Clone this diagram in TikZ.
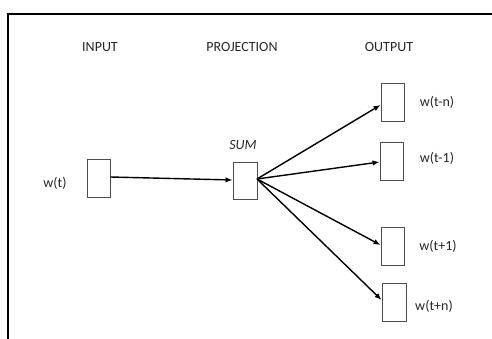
\documentclass[tikz,border=0pt]{standalone}
\usepackage{fontspec}
\setmainfont{Carlito}
\usetikzlibrary{arrows.meta}
\begin{document}
\begin{tikzpicture}[x=1pt,y=-1pt,
  wbox/.style={draw=black!70,line width=0.9pt,minimum width=23pt,minimum height=38pt,inner sep=0pt},
  lbl/.style={font=\fontsize{14}{16}\selectfont,inner sep=0pt,text=black!85},
  arr/.style={line width=1.4pt,-{Latex[length=7pt,width=5.5pt]}}]
\useasboundingbox (0,0) rectangle (492,339);
\draw[line width=1.8pt] (8,339) -- (8,14) -- (492,14);
\node[lbl] (tin) at (100,47) {INPUT};
\node[lbl] (tproj) at (242,47) {PROJECTION};
\node[lbl] (tout) at (389,47) {OUTPUT};
\node[wbox] (in) at (98.5,178.5) {};
\node[lbl,anchor=center] (lin) at (55,183) {w(t)};
\node[wbox,minimum width=24pt,minimum height=37pt] (sum) at (245,180.5) {};
\node[lbl,font=\fontsize{14}{16}\selectfont\itshape] (lsum) at (243,145) {SUM};
\node[wbox] (o1) at (392.5,102) {};
\node[wbox] (o2) at (391.5,161) {};
\node[wbox] (o3) at (392.5,246.5) {};
\node[wbox,minimum width=24pt] (o4) at (394,302) {};
\node[lbl] (l1) at (437,102) {w(t-n)};
\node[lbl] (l2) at (437,158) {w(t-1)};
\node[lbl] (l3) at (438,246) {w(t+1)};
\node[lbl] (l4) at (434,306) {w(t+n)};
\coordinate (s) at (257,179);
\draw[arr] (in.east |- 0,177) -- (sum.west |- 0,180);
\draw[arr] (s) -- (o1.west |- 0,105);
\draw[arr] (s) -- (o2.west |- 0,162);
\draw[arr] (s) -- (o3.west |- 0,245);
\draw[arr] (s) -- (o4.west |- 0,300);
\end{tikzpicture}
\end{document}
